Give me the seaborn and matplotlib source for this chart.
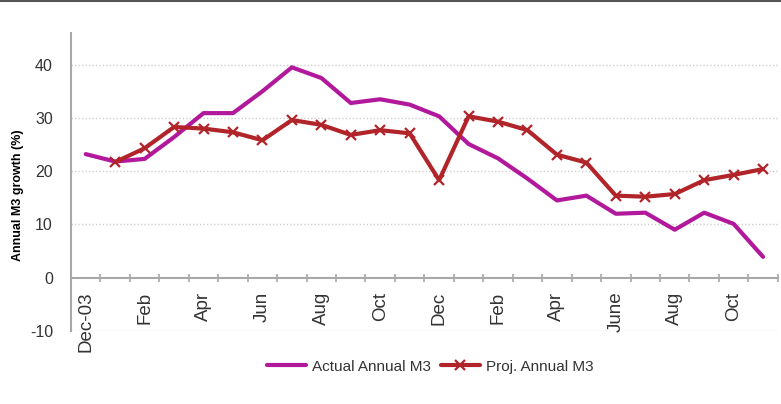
import matplotlib
matplotlib.use("Agg")
import matplotlib.pyplot as plt
from matplotlib.lines import Line2D
from matplotlib.ticker import FixedLocator
import seaborn as sns
import pandas as pd
import numpy as np

sns.set_theme(style="white")
plt.rcParams["font.family"] = ["Liberation Sans", "DejaVu Sans"]

# Monthly categories, Dec-03 .. Nov-05
months = ["Dec-03", "Jan", "Feb", "Mar", "Apr", "May", "Jun", "Jul", "Aug", "Sep",
          "Oct", "Nov", "Dec", "Jan", "Feb", "Mar", "Apr", "May", "June", "Jul",
          "Aug", "Sep", "Oct", "Nov"]

actual_m3 = [23.2, 21.8, 22.3, 26.4, 30.9, 30.9, 35.0, 39.5, 37.5, 32.8, 33.5, 32.5,
             30.3, 25.1, 22.4, 18.6, 14.5, 15.4, 12.0, 12.2, 9.0, 12.2, 10.1, 3.9]

proj_m3 = [np.nan, 21.7, 24.3, 28.3, 28.0, 27.3, 25.8, 29.6, 28.7, 26.8, 27.7, 27.1,
           18.3, 30.3, 29.3, 27.7, 23.1, 21.6, 15.4, 15.2, 15.7, 18.3, 19.3, 20.4]

y_ticks = [-10, 0, 10, 20, 30, 40]

actual_color = "#B2189C"
proj_color = "#B0242A"
axis_gray = "#A8A8A8"
text_gray = "#333333"

df = pd.DataFrame({"idx": np.arange(len(months)), "month": months,
                   "actual": actual_m3, "proj": proj_m3})

fig = plt.figure(figsize=(7.81, 4.04), dpi=100)
ax = fig.add_axes([0.0909, 0.181, 0.905, 0.738])

sns.lineplot(data=df, x="idx", y="actual", ax=ax, color=actual_color,
             linewidth=3.0, sort=False, label="Actual Annual M3")
sns.lineplot(data=df.dropna(), x="idx", y="proj", ax=ax, color=proj_color,
             linewidth=3.0, marker="x", markersize=7, markeredgewidth=1.6,
             markeredgecolor=proj_color, sort=False, label="Proj. Annual M3")

ax.set_xlim(-0.5, len(months) - 0.5)
ax.set_ylim(-10, 46)

# spines first: moving the bottom spine rebuilds the tick objects
for side in ["top", "right"]:
    ax.spines[side].set_visible(False)
ax.spines["left"].set_color(axis_gray)
ax.spines["left"].set_linewidth(1.5)
ax.spines["bottom"].set_color(axis_gray)
ax.spines["bottom"].set_linewidth(1.5)
ax.spines["bottom"].set_position(("data", 0))

# dotted horizontal gridlines
for yv in y_ticks:
    if yv != 0:
        ax.axhline(yv, color="#CFCFCF", linestyle=(0, (1, 1.5)), linewidth=1.0, zorder=0)

ax.set_yticks(y_ticks)
ax.set_yticklabels([str(v) for v in y_ticks], fontsize=11.5, color=text_gray)
ax.tick_params(axis="y", length=4, width=1.2, color=axis_gray, direction="out", pad=9)

# category labels every other month, tick marks between categories
label_pos = list(range(0, len(months), 2))
ax.xaxis.set_major_locator(FixedLocator(label_pos))
ax.xaxis.set_minor_locator(FixedLocator(np.arange(-0.5, len(months), 1.0)))
ax.tick_params(axis="x", which="major", length=0, pad=10)
ax.tick_params(axis="x", which="minor", length=6, width=1.2, color=axis_gray,
               direction="inout", bottom=True)
ax.set_xticklabels([months[i] for i in label_pos], fontsize=13.5, color=text_gray)
for lbl in ax.get_xticklabels():
    lbl.set_rotation(90)
    lbl.set_va("top")
    lbl.set_ha("center")

ax.set_xlabel("")
ax.set_ylabel("Annual M3 growth (%)", fontsize=9, fontweight="bold", color="black")
ax.yaxis.set_label_coords(-0.067, 0.455)

leg = ax.legend(loc="center", bbox_to_anchor=(0.551, 0.092),
                bbox_transform=fig.transFigure, ncol=2, frameon=False,
                fontsize=11, handlelength=2.6, columnspacing=0.6, handletextpad=0.4)
for t in leg.get_texts():
    t.set_color(text_gray)

# thin frame line along the top edge of the figure
fig.add_artist(Line2D([0, 1], [0.997, 0.997], transform=fig.transFigure,
                      color="#555555", linewidth=1.5))

fig.savefig("out.png", dpi=100)
